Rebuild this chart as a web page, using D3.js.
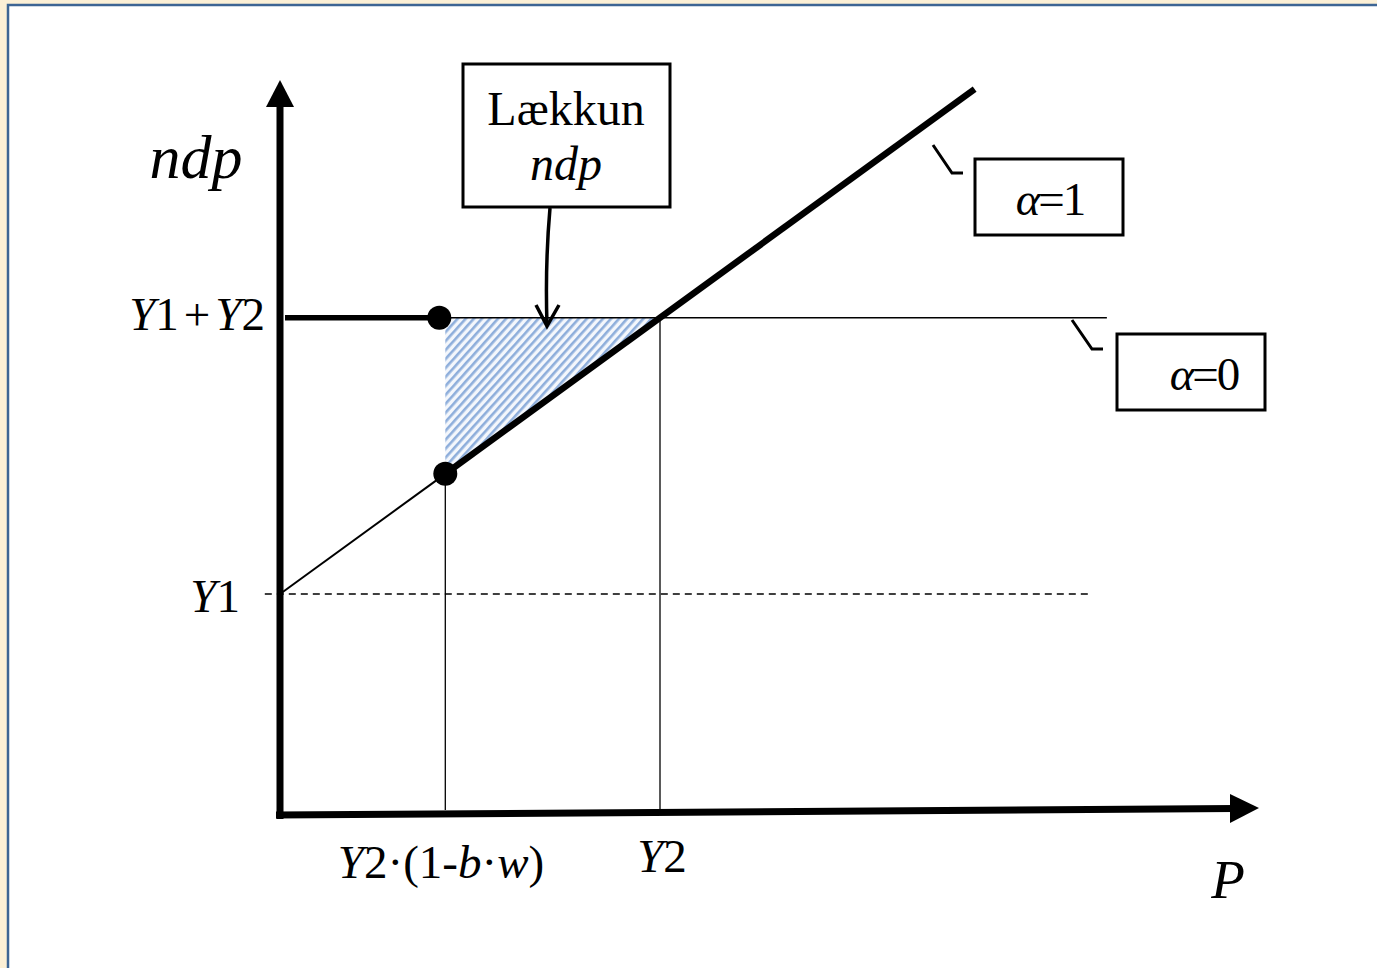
<!DOCTYPE html>
<html><head><meta charset="utf-8">
<script src="https://cdn.jsdelivr.net/npm/d3@7"></script>
<style>html,body{margin:0;padding:0;background:#fcf0d6;overflow:hidden}svg{display:block}</style>
</head><body>
<svg id="c" width="1377" height="968"></svg>
<script>
// ---- data ----
const Y1 = 1.0;
const Y2 = 1.25;
const oneMinusBW = 0.435;            // Y2·(1-b·w) as share of Y2
const pLow = Y2 * oneMinusBW;        // Y2·(1-b·w)
const pEnd = 2.285;                  // end of the α=1 line
const pRight = 2.72;                 // end of the α=0 line
const pDashEnd = 2.67;               // end of dashed Y1 line
const alpha1Line = [0, pLow, pEnd];  // P values; ndp = Y1 + P
const yTickValues = [Y1, Y1 + Y2];
const yTickLabels = [[["Y","i"],["1","n"]], [["Y","i"],["1","n"],["+","s"],["Y","i"],["2","n"]]];
const xTickValues = [pLow, Y2];
const xTickLabels = [[["Y","i"],["2·(1-","n"],["b","i"],["·","n"],["w","i"],[")","n"]], [["Y","i"],["2","n"]]];

const svg = d3.select("#c");
const FONT = "Liberation Serif, Times New Roman, serif";

// background frame
svg.append("rect").attr("x",0).attr("y",0).attr("width",1377).attr("height",968).attr("fill","#fcf0d6");
svg.append("rect").attr("x",8).attr("y",5).attr("width",1400).attr("height",1000)
  .attr("fill","#fff").attr("stroke","#3d6594").attr("stroke-width",2.5);

const x = d3.scaleLinear().domain([0, Y2]).range([280, 660]);
const y = d3.scaleLinear().domain([0, Y1]).range([815, 594]);

// hatch pattern
const defs = svg.append("defs");
const pat = defs.append("pattern").attr("id","hatch").attr("patternUnits","userSpaceOnUse")
  .attr("width",6).attr("height",6).attr("patternTransform","rotate(42)");
pat.append("rect").attr("width",6).attr("height",6).attr("fill","#f4f7fc");
pat.append("rect").attr("x",0).attr("y",0).attr("width",2.6).attr("height",6).attr("fill","#8eaedb");

// shaded triangle
svg.append("path")
  .attr("d", d3.line()([[x(pLow), y(Y1+Y2)], [x(Y2), y(Y1+Y2)], [x(pLow), y(Y1+pLow)]]) + "Z")
  .attr("fill","url(#hatch)");

// dashed Y1 line
svg.append("line").attr("x1", x(-0.05)).attr("x2", x(pDashEnd)).attr("y1", y(Y1)).attr("y2", y(Y1))
  .attr("stroke","#000").attr("stroke-width",1.5).attr("stroke-dasharray","7,5");

// vertical guide lines
xTickValues.forEach((v, i) => {
  const top = i === 0 ? y(Y1 + pLow) : y(Y1 + Y2);
  svg.append("line").attr("x1", x(v)).attr("x2", x(v)).attr("y1", top).attr("y2", 810)
    .attr("stroke","#000").attr("stroke-width",1.3);
});

// α=0 thin line and thick segment
svg.append("line").attr("x1", x(pLow)-6).attr("x2", x(pRight)).attr("y1", y(Y1+Y2)).attr("y2", y(Y1+Y2))
  .attr("stroke","#000").attr("stroke-width",1.3);
svg.append("line").attr("x1", 285).attr("x2", x(pLow)-6).attr("y1", y(Y1+Y2)).attr("y2", y(Y1+Y2))
  .attr("stroke","#000").attr("stroke-width",5.5);

// α=1 line: thin then thick
svg.append("line").attr("x1", x(alpha1Line[0])).attr("y1", y(Y1+alpha1Line[0]))
  .attr("x2", x(alpha1Line[1])).attr("y2", y(Y1+alpha1Line[1]))
  .attr("stroke","#000").attr("stroke-width",2);
svg.append("line").attr("x1", x(alpha1Line[1])).attr("y1", y(Y1+alpha1Line[1]))
  .attr("x2", x(alpha1Line[2])).attr("y2", y(Y1+alpha1Line[2]))
  .attr("stroke","#000").attr("stroke-width",6.5);

// dots
svg.append("circle").attr("cx", x(pLow)-6).attr("cy", y(Y1+Y2)).attr("r",12).attr("fill","#000");
svg.append("circle").attr("cx", x(pLow)).attr("cy", y(Y1+pLow)).attr("r",12).attr("fill","#000");

// axes
svg.append("line").attr("x1",280).attr("y1",819).attr("x2",280).attr("y2",100)
  .attr("stroke","#000").attr("stroke-width",7);
svg.append("path").attr("d","M280,80 L266,107 L294,107 Z").attr("fill","#000");
svg.append("line").attr("x1",276).attr("y1",815).attr("x2",1235).attr("y2",808.5)
  .attr("stroke","#000").attr("stroke-width",7);
svg.append("path").attr("d","M1259,808 L1230,794 L1230,823 Z").attr("fill","#000");

function rich(sel, parts) {
  parts.forEach(([t, s]) => {
    const ts = sel.append("tspan").text(t).attr("font-style", s === "i" ? "italic" : "normal");
    if (s === "s") { ts.attr("dx", 5); }
  });
  // space after operator
  sel.selectAll("tspan").each(function(d, i, n) {
    if (i > 0 && parts[i-1][1] === "s") d3.select(this).attr("dx", 5);
  });
}

const LS = 47;
// y tick labels
const yLabelPos = [[240, 612], [265, 330]];
yTickValues.forEach((v, i) => {
  const t = svg.append("text").attr("x", yLabelPos[i][0]).attr("y", yLabelPos[i][1])
    .attr("text-anchor","end").attr("font-family",FONT).attr("font-size",LS);
  rich(t, yTickLabels[i]);
});
// x tick labels
const xLabelPos = [[441, 878], [662, 872]];
xTickValues.forEach((v, i) => {
  const t = svg.append("text").attr("x", xLabelPos[i][0]).attr("y", xLabelPos[i][1])
    .attr("text-anchor","middle").attr("font-family",FONT).attr("font-size",LS);
  rich(t, xTickLabels[i]);
});

// axis titles
svg.append("text").attr("x",196).attr("y",178).attr("text-anchor","middle")
  .attr("font-family",FONT).attr("font-size",62).attr("font-style","italic").text("ndp");
svg.append("text").attr("x",1228).attr("y",898).attr("text-anchor","middle")
  .attr("font-family",FONT).attr("font-size",55).attr("font-style","italic").text("P");

// Lækkun box
svg.append("rect").attr("x",463).attr("y",64).attr("width",207).attr("height",143)
  .attr("fill","#fff").attr("stroke","#000").attr("stroke-width",3);
svg.append("text").attr("x",566).attr("y",125).attr("text-anchor","middle")
  .attr("font-family",FONT).attr("font-size",48).text("Lækkun");
svg.append("text").attr("x",566).attr("y",180).attr("text-anchor","middle")
  .attr("font-family",FONT).attr("font-size",48).attr("font-style","italic").text("ndp");
svg.append("path").attr("d","M550,208 Q545,265 547,325").attr("fill","none").attr("stroke","#000").attr("stroke-width",3.5);
svg.append("path").attr("d","M536,305 L547,326 L559,305").attr("fill","none").attr("stroke","#000")
  .attr("stroke-width",3.5).attr("stroke-linejoin","miter");

// α=1 box
svg.append("rect").attr("x",975).attr("y",159).attr("width",148).attr("height",76)
  .attr("fill","#fff").attr("stroke","#000").attr("stroke-width",3);
const a1 = svg.append("text").attr("x",1050).attr("y",215).attr("text-anchor","middle")
  .attr("font-family",FONT).attr("font-size",LS).attr("letter-spacing",-2);
rich(a1, [["α","i"],["=1","n"]]);
svg.append("path").attr("d","M933,145 L952,173 L963,173").attr("fill","none").attr("stroke","#000").attr("stroke-width",3);

// α=0 box
svg.append("rect").attr("x",1117).attr("y",334).attr("width",148).attr("height",76)
  .attr("fill","#fff").attr("stroke","#000").attr("stroke-width",3);
const a0 = svg.append("text").attr("x",1204).attr("y",390).attr("text-anchor","middle")
  .attr("font-family",FONT).attr("font-size",LS).attr("letter-spacing",-2);
rich(a0, [["α","i"],["=0","n"]]);
svg.append("path").attr("d","M1072,320 L1092,349 L1103,349").attr("fill","none").attr("stroke","#000").attr("stroke-width",3);
</script>
</body></html>
